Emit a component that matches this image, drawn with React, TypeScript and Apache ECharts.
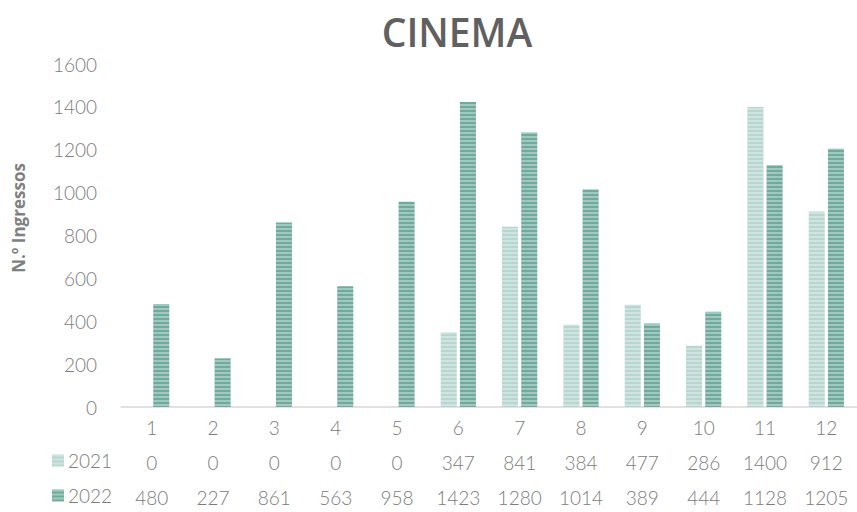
import React, { useEffect, useRef } from "react";
import * as echarts from "echarts";

const months = ["1", "2", "3", "4", "5", "6", "7", "8", "9", "10", "11", "12"];
const values2021 = [0, 0, 0, 0, 0, 347, 841, 384, 477, 286, 1400, 912];
const values2022 = [480, 227, 861, 563, 958, 1423, 1280, 1014, 389, 444, 1128, 1205];
const yTicks = { min: 0, max: 1600, interval: 200 };
const titleText = "CINEMA";
const yTitle = "N.º Ingressos";
const seriesNames = ["2021", "2022"];

const FONT = "Lato, 'Open Sans', sans-serif";
const GRAY = "#7c7c7c";
const WEIGHT = 300;
const C2021 = "#b6d6cf";
const C2022 = "#6fab9d";

const stripes = {
  symbol: "rect",
  symbolSize: 1,
  dashArrayX: [1, 0],
  dashArrayY: [2, 2],
  rotation: 0,
  color: "rgba(255,255,255,0.35)",
};

export default function App() {
  const ref = useRef<HTMLDivElement>(null);
  useEffect(() => {
    if (!ref.current) return;
    const chart = echarts.init(ref.current, undefined, { renderer: "svg" });
    const tableAxis = (vals: number[], offset: number) => ({
      type: "category",
      data: months,
      position: "bottom",
      offset,
      axisLine: { show: false },
      axisTick: { show: false },
      axisLabel: {
        interval: 0,
        fontSize: 19,
        fontFamily: FONT,
        fontWeight: WEIGHT,
        color: GRAY,
        margin: 11,
        formatter: (_v: string, i: number) => String(vals[i]),
      },
    });
    const legendBase = {
      left: 52,
      padding: 0,
      icon: "rect",
      itemWidth: 12,
      itemHeight: 12,
      itemGap: 6,
      textStyle: {
        fontSize: 19,
        fontFamily: FONT,
        fontWeight: WEIGHT,
        color: GRAY,
        padding: [0, 0, 0, -1],
      },
    };
    chart.setOption({
      animation: false,
      backgroundColor: "#ffffff",
      grid: { left: 121, top: 64, width: 744, height: 343, containLabel: false },
      legend: [
        { ...legendBase, data: [seriesNames[0]], top: 451 },
        { ...legendBase, data: [seriesNames[1]], top: 486 },
      ],
      xAxis: [
        {
          type: "category",
          data: months,
          position: "bottom",
          axisLine: { show: true, lineStyle: { color: "#d9d9d9", width: 1.5 } },
          axisTick: { show: false },
          axisLabel: {
            interval: 0,
            fontSize: 19,
            fontFamily: FONT,
            fontWeight: WEIGHT,
            color: GRAY,
            margin: 11,
          },
        },
        tableAxis(values2021, 35),
        tableAxis(values2022, 70),
      ],
      yAxis: {
        type: "value",
        min: yTicks.min,
        max: yTicks.max,
        interval: yTicks.interval,
        axisLine: { show: false },
        axisTick: { show: false },
        splitLine: { show: false },
        axisLabel: {
          fontSize: 19,
          fontFamily: FONT,
          fontWeight: WEIGHT,
          color: GRAY,
          margin: 24,
          formatter: (v: number) => String(v),
        },
      },
      graphic: [
        {
          type: "text",
          x: 457,
          y: 31,
          style: {
            text: titleText,
            align: "center",
            verticalAlign: "middle",
            fontSize: 39,
            fontWeight: 600,
            fontFamily: "'Open Sans', sans-serif",
            fill: "#606060",
          },
        },
        {
          type: "text",
          x: 18,
          y: 218,
          rotation: Math.PI / 2,
          style: {
            text: yTitle,
            align: "center",
            verticalAlign: "middle",
            fontSize: 17,
            fontWeight: "bold",
            fontFamily: "'Open Sans', sans-serif",
            fill: "#808080",
          },
        },
      ],
      series: [
        {
          name: seriesNames[0],
          type: "bar",
          data: values2021,
          barWidth: 16,
          barGap: "20%",
          itemStyle: { color: C2021, decal: stripes },
        },
        {
          name: seriesNames[1],
          type: "bar",
          data: values2022,
          barWidth: 16,
          barGap: "20%",
          itemStyle: { color: C2022, decal: stripes },
        },
      ],
    });
    return () => chart.dispose();
  }, []);
  return (
    <div
      ref={ref}
      style={{ position: "fixed", left: 0, top: 0, width: 857, height: 512, background: "#fff" }}
    />
  );
}
